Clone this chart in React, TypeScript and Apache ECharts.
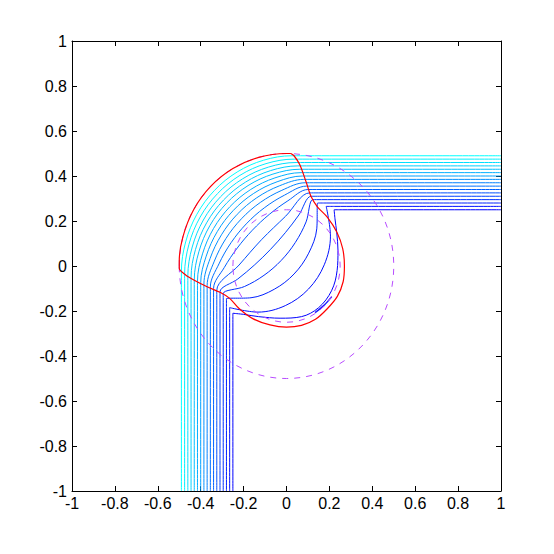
import React, { useEffect, useRef } from 'react';
import * as echarts from 'echarts';

// Axis ranges / ticks
const axisMin = -1;
const axisMax = 1;
const axisStep = 0.2;

// Streamline colours, outermost (cyan) to innermost (blue)
const streamColors = [
  'rgb(0,255,255)', 'rgb(0,239,255)', 'rgb(0,223,255)', 'rgb(0,207,255)',
  'rgb(0,191,255)', 'rgb(0,175,255)', 'rgb(0,159,255)', 'rgb(0,143,255)',
  'rgb(0,128,255)', 'rgb(0,112,255)', 'rgb(0,96,255)', 'rgb(0,80,255)',
  'rgb(0,64,255)', 'rgb(0,48,255)', 'rgb(0,32,255)', 'rgb(0,16,255)',
  'rgb(0,0,255)',
];

// Streamlines (x, y)
const line00 = [[1,0.49],[0.065,0.49],[0.025,0.49],[-0.1069,0.4702],[-0.23,0.4178],[-0.3359,0.3359],[-0.4178,0.23],[-0.4702,0.1069],[-0.49,-0.025],[-0.49,-0.065],[-0.49,-1]];
const line01 = [[1,0.475],[0.076,0.475],[0.036,0.475],[-0.0956,0.455],[-0.2171,0.4028],[-0.3217,0.3217],[-0.4028,0.2171],[-0.455,0.0956],[-0.475,-0.036],[-0.475,-0.076],[-0.475,-1]];
const line02 = [[1,0.46],[0.085,0.46],[0.045,0.46],[-0.0844,0.4395],[-0.2044,0.3876],[-0.3076,0.3076],[-0.3876,0.2044],[-0.4395,0.0844],[-0.46,-0.045],[-0.46,-0.085],[-0.46,-1]];
const line03 = [[1,0.445],[0.093,0.445],[0.053,0.445],[-0.0739,0.4241],[-0.1918,0.3724],[-0.2934,0.2934],[-0.3724,0.1918],[-0.4241,0.0739],[-0.445,-0.053],[-0.445,-0.093],[-0.445,-1]];
const line04 = [[1,0.43],[0.102,0.43],[0.062,0.43],[-0.0631,0.4086],[-0.1792,0.3574],[-0.2793,0.2793],[-0.3574,0.1792],[-0.4086,0.0631],[-0.43,-0.062],[-0.43,-0.102],[-0.43,-1]];
const line05 = [[1,0.415],[0.108,0.415],[0.068,0.415],[-0.0539,0.3916],[-0.1664,0.3403],[-0.2637,0.2637],[-0.3403,0.1664],[-0.3916,0.0539],[-0.415,-0.068],[-0.415,-0.108],[-0.415,-1]];
const line06 = [[1,0.4],[0.114,0.4],[0.074,0.4],[-0.0439,0.3743],[-0.153,0.3226],[-0.2475,0.2475],[-0.3226,0.153],[-0.3743,0.0439],[-0.4,-0.074],[-0.4,-0.114],[-0.4,-1]];
const line07 = [[1,0.385],[0.12,0.385],[0.08,0.385],[-0.0338,0.356],[-0.1386,0.3033],[-0.2298,0.2298],[-0.3033,0.1386],[-0.356,0.0338],[-0.385,-0.08],[-0.385,-0.12],[-0.385,-1]];
const line08 = [[1,0.37],[0.127,0.37],[0.087,0.37],[-0.0217,0.3364],[-0.1221,0.2824],[-0.21,0.21],[-0.2824,0.1221],[-0.3364,0.0217],[-0.37,-0.087],[-0.37,-0.127],[-0.37,-1]];
const line09 = [[1,0.355],[0.133,0.355],[0.093,0.355],[-0.0093,0.3149],[-0.1036,0.2584],[-0.1874,0.1874],[-0.2584,0.1036],[-0.3149,0.0093],[-0.355,-0.093],[-0.355,-0.133],[-0.355,-1]];
const line10 = [[1,0.34],[0.14,0.34],[0.1,0.34],[0.0067,0.29],[-0.08,0.2295],[-0.1591,0.1591],[-0.2295,0.08],[-0.29,-0.0067],[-0.34,-0.1],[-0.34,-0.14],[-0.34,-1]];
const line11 = [[1,0.325],[0.148,0.325],[0.108,0.325],[-0.0044,0.221],[-0.1167,0.1167],[-0.221,0.0044],[-0.325,-0.108],[-0.325,-0.148],[-0.325,-1]];
const line12 = [[1,0.31],[0.155,0.31],[0.115,0.31],[0.0577,0.227],[-0.0056,0.148],[-0.0742,0.0742],[-0.148,0.0056],[-0.227,-0.0577],[-0.31,-0.115],[-0.31,-0.155],[-0.31,-1]];
const line13 = [[1,0.295],[0.163,0.295],[0.123,0.295],[0.0913,0.1961],[0.0414,0.1049],[-0.0247,0.0247],[-0.1049,-0.0414],[-0.1961,-0.0913],[-0.295,-0.123],[-0.295,-0.163],[-0.295,-1]];
const line14 = [[1,0.28],[0.185,0.28],[0.145,0.28],[0.1411,0.1654],[0.1034,0.057],[0.0354,-0.0354],[-0.057,-0.1034],[-0.1654,-0.1411],[-0.28,-0.145],[-0.28,-0.185],[-0.28,-1]];
const line15 = [[1,0.265],[0.225,0.265],[0.185,0.265],[0.2049,0.1328],[0.1761,0.0055],[0.1025,-0.1025],[-0.0055,-0.1761],[-0.1328,-0.2049],[-0.265,-0.185],[-0.265,-0.225],[-0.265,-1]];
const line16 = [[1,0.25],[0.26,0.25],[0.222,0.25],[0.226,0.21],[0.234,0.15],[0.24,0.07],[0.236,-0.02],[0.21,-0.11],[0.15,-0.185],[0.07,-0.225],[-0.03,-0.232],[-0.13,-0.225],[-0.2,-0.215],[-0.25,-0.21],[-0.25,-0.25],[-0.25,-1]];

const streamlines = [line00, line01, line02, line03, line04, line05, line06, line07, line08,
  line09, line10, line11, line12, line13, line14, line15, line16];

// Short dark blue fragment near the lower right of the lobe
const darkSegment = [[0.133,-0.207],[0.175,-0.175],[0.211,-0.136]];

// Red interface curve
const redBoundary = [
  [0.02,0.5],[0,0.5],[-0.1294,0.483],[-0.25,0.433],[-0.3536,0.3536],[-0.433,0.25],[-0.483,0.1294],
  [-0.5,0.02],[-0.5,-0.01],[-0.47,-0.04],[-0.43,-0.063],[-0.37,-0.092],[-0.31,-0.117],[-0.265,-0.144],
  [-0.22,-0.19],[-0.155,-0.235],[-0.077,-0.262],[0,-0.272],[0.07,-0.264],[0.135,-0.237],[0.19,-0.19],
  [0.237,-0.135],[0.264,-0.07],[0.27,0],[0.262,0.077],[0.235,0.15],[0.19,0.217],[0.144,0.263],
  [0.114,0.31],[0.092,0.372],[0.062,0.45],[0.035,0.49],[0.02,0.5],
];

// Dashed circles: centre x, centre y, radius
const dashedCircles = [[0, 0, 0.5], [0, 0, 0.25]];

const fontFamily = "'Liberation Sans Narrow', 'Arial Narrow', 'Liberation Sans', Arial, sans-serif";

function makeXAxis(position: 'bottom' | 'top', labels: boolean) {
  return {
    type: 'value', position, min: axisMin, max: axisMax, interval: axisStep,
    axisLine: { show: true, onZero: false, lineStyle: { color: '#000', width: 1 } },
    axisTick: { show: true, inside: true, length: 5, lineStyle: { color: '#000' } },
    axisLabel: { show: labels, color: '#000', fontSize: 16, fontFamily, margin: 4, showMinLabel: true, showMaxLabel: true },
    splitLine: { show: false },
  };
}
function makeYAxis(position: 'left' | 'right', labels: boolean) {
  return {
    type: 'value', position, min: axisMin, max: axisMax, interval: axisStep,
    axisLine: { show: true, onZero: false, lineStyle: { color: '#000', width: 1 } },
    axisTick: { show: true, inside: true, length: 5, lineStyle: { color: '#000' } },
    axisLabel: { show: labels, color: '#000', fontSize: 16, fontFamily, margin: 5, showMinLabel: true, showMaxLabel: true },
    splitLine: { show: false },
  };
}

export default function App() {
  const ref = useRef<HTMLDivElement>(null);
  useEffect(() => {
    if (!ref.current) return;
    const chart = echarts.init(ref.current, null, { renderer: 'svg' });
    const series: any[] = streamlines.map((pts, i) => ({
      type: 'line', data: pts, symbol: 'none', showSymbol: false, smooth: 0.35,
      lineStyle: { color: streamColors[i], width: 1 }, z: 2, silent: true,
    }));
    series.push({
      type: 'line', data: darkSegment, symbol: 'none', showSymbol: false, smooth: 0.3,
      lineStyle: { color: '#1a1aff', width: 1.5 }, z: 2, silent: true,
    });
    series.push({
      type: 'custom', data: dashedCircles, encode: { x: 0, y: 1 }, z: 3, silent: true,
      renderItem: (_params: any, api: any) => {
        const c = api.coord([api.value(0), api.value(1)]);
        const s = api.size([api.value(2), api.value(2)]);
        return {
          type: 'ellipse',
          shape: { cx: c[0], cy: c[1], rx: s[0], ry: s[1] },
          style: { fill: 'none', stroke: '#b84cff', lineWidth: 1, lineDash: [6, 6] },
        };
      },
    });
    series.push({
      type: 'line', data: redBoundary, symbol: 'none', showSymbol: false, smooth: 0.3,
      lineStyle: { color: '#ff0000', width: 1.2 }, z: 4, silent: true,
    });
    chart.setOption({
      animation: false,
      backgroundColor: '#fff',
      grid: { left: 72, top: 41, width: 429, height: 450, containLabel: false },
      xAxis: [makeXAxis('bottom', true), makeXAxis('top', false)],
      yAxis: [makeYAxis('left', true), makeYAxis('right', false)],
      series,
    });
    return () => chart.dispose();
  }, []);
  return (
    <div
      ref={ref}
      style={{ position: 'fixed', left: 0, top: 0, width: 554, height: 554, background: '#fff' }}
    />
  );
}
